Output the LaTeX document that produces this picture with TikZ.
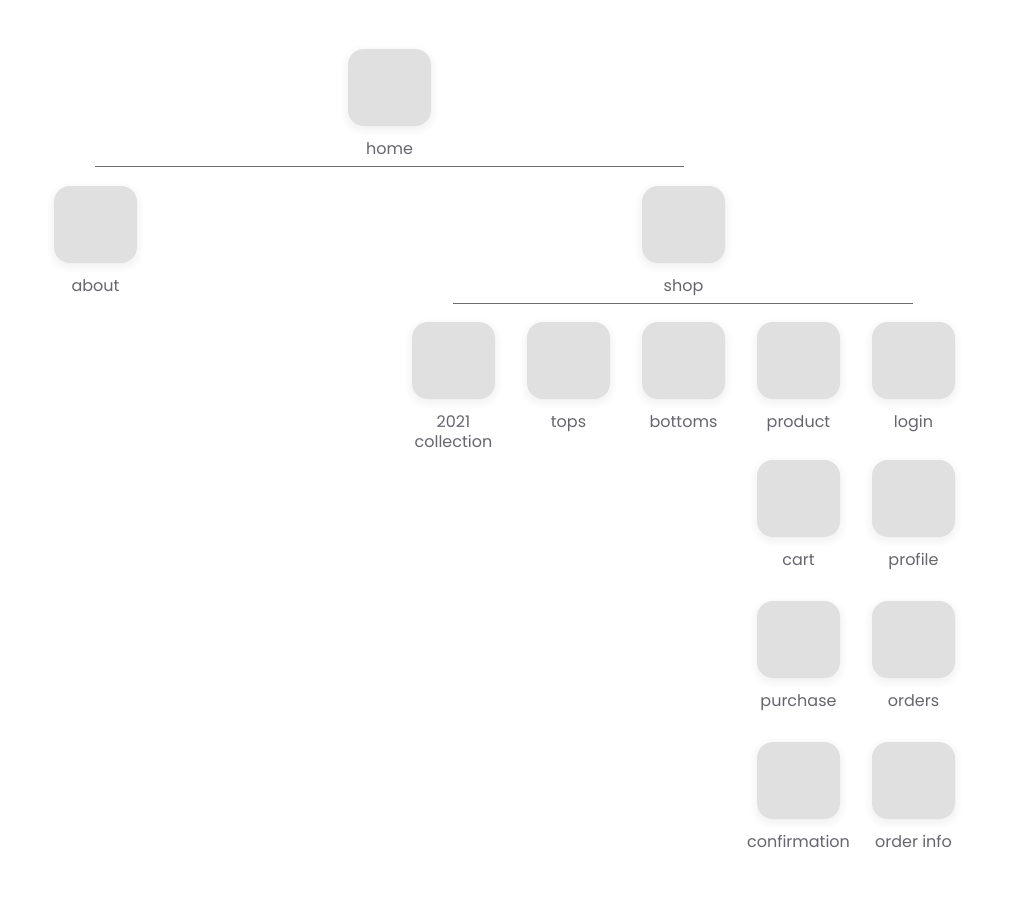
\documentclass[tikz,border=0pt]{standalone}
\usepackage{fontspec}
\setmainfont{Poppins}
\usetikzlibrary{shadows.blur}
\definecolor{boxfill}{HTML}{E0E0E0}
\definecolor{labelcol}{HTML}{65656F}
\definecolor{linecol}{HTML}{6B6B70}
\begin{document}
\begin{tikzpicture}[x=1pt,y=-1pt,
  page/.style={draw=none, fill=boxfill, rounded corners=16pt, minimum width=83pt, minimum height=77pt, inner sep=0pt,
    blur shadow={shadow xshift=0pt, shadow yshift=-3pt, shadow blur radius=8pt, shadow blur steps=16, shadow opacity=7}},
  lbl/.style={text=labelcol, font=\fontsize{16}{20}\selectfont, inner sep=0pt, align=center, anchor=base},
  bar/.style={draw=linecol, line width=0.9pt}]
\useasboundingbox (0,0) rectangle (1013,900);
% level 0
\node[page] (home) at (389.5,87.5) {};
\node[lbl] (homel) at (389.5,154) {home};
% bar 1
\coordinate (b1l) at (95,166);
\coordinate (b1r) at (684,166);
\draw[bar] (b1l) -- (b1r);
% level 1
\node[page] (about) at (95.5,224.5) {};
\node[lbl] (aboutl) at (95.5,291) {about};
\node[page] (shop) at (683.5,224.5) {};
\node[lbl] (shopl) at (683.5,291) {shop};
% bar 2
\coordinate (b2l) at (453,303);
\coordinate (b2r) at (913,303);
\draw[bar] (b2l) -- (b2r);
% level 2
\node[page] (coll) at (453.5,360.5) {};
\node[lbl] (colll) at (453.5,447) {2021\\collection};
\node[page] (tops) at (568.5,360.5) {};
\node[lbl] (topsl) at (568.5,427) {tops};
\node[page] (bottoms) at (683.5,360.5) {};
\node[lbl] (bottomsl) at (683.5,427) {bottoms};
\node[page] (product) at (798.5,360.5) {};
\node[lbl] (productl) at (798.5,427) {product};
\node[page] (login) at (913.5,360.5) {};
\node[lbl] (loginl) at (913.5,427) {login};
% column rows
\node[page] (cart) at (798.5,498.5) {};
\node[lbl] (cartl) at (798.5,565) {cart};
\node[page] (profile) at (913.5,498.5) {};
\node[lbl] (profilel) at (913.5,565) {profile};
\node[page] (purchase) at (798.5,639.5) {};
\node[lbl] (purchasel) at (798.5,706) {purchase};
\node[page] (orders) at (913.5,639.5) {};
\node[lbl] (ordersl) at (913.5,706) {orders};
\node[page] (confirm) at (798.5,780.5) {};
\node[lbl] (confirml) at (798.5,847) {confirmation};
\node[page] (orderinfo) at (913.5,780.5) {};
\node[lbl] (orderinfol) at (913.5,847) {order info};
\end{tikzpicture}
\end{document}
